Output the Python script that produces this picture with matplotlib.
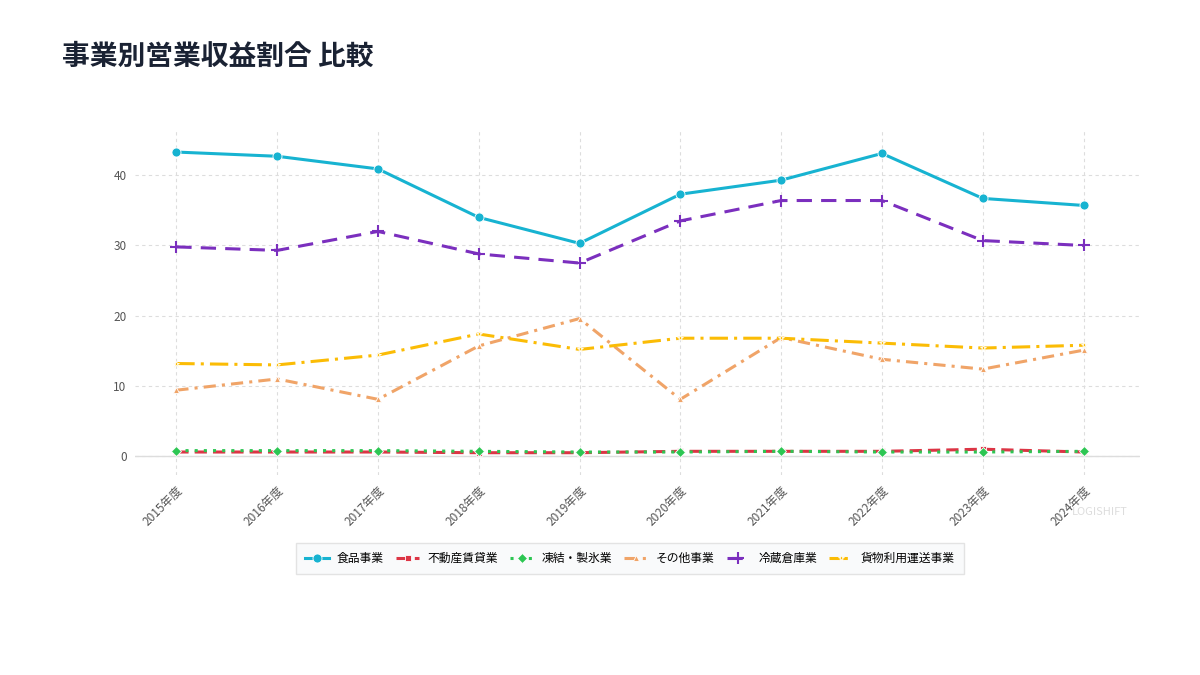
import numpy as np
import matplotlib
matplotlib.use('Agg')
import matplotlib.pyplot as plt

plt.rcParams['font.family'] = ['Noto Sans CJK JP', 'DejaVu Sans']

years = ['2015年度', '2016年度', '2017年度', '2018年度', '2019年度',
         '2020年度', '2021年度', '2022年度', '2023年度', '2024年度']

food = [43.3, 42.7, 40.9, 34.0, 30.3, 37.3, 39.3, 43.1, 36.7, 35.7]
real_estate = [0.6, 0.6, 0.6, 0.5, 0.5, 0.7, 0.7, 0.7, 1.0, 0.6]
freezing = [0.8, 0.8, 0.8, 0.7, 0.6, 0.6, 0.7, 0.6, 0.6, 0.7]
other = [9.4, 11.0, 8.1, 15.7, 19.6, 8.1, 16.9, 13.8, 12.4, 15.1]
cold_storage = [29.8, 29.3, 32.0, 28.8, 27.5, 33.5, 36.4, 36.4, 30.7, 30.0]
freight = [13.2, 13.0, 14.4, 17.4, 15.2, 16.8, 16.8, 16.1, 15.4, 15.8]

labels = ['食品事業', '不動産賃貸業', '凍結・製氷業', 'その他事業', '冷蔵倉庫業', '貨物利用運送事業']
series = [food, real_estate, freezing, other, cold_storage, freight]
colors = ['#17b3d1', '#dc3545', '#2dc653', '#f0a468', '#7b2fbe', '#fbbc05']
markers = ['o', 's', 'D', '^', '+', '*']
styles = ['-', (0, (4, 2)), (0, (1, 2)), (0, (4, 2, 1, 2)), (0, (5, 3)), (0, (6, 2, 1, 2))]
msizes = [6.5, 5, 5.5, 4.5, 8, 5]

fig = plt.figure(figsize=(12, 6.75), dpi=100)
ax = fig.add_axes([0.1125, 0.296, 0.8375, 0.511])

x = np.arange(len(years))
for i in range(len(series)):
    is_plus = markers[i] == '+'
    ax.plot(x, series[i], linestyle=styles[i], linewidth=2.2, color=colors[i],
            marker=markers[i], markersize=msizes[i],
            markeredgecolor=colors[i] if is_plus else 'white',
            markeredgewidth=1.5 if is_plus else 0.6,
            markerfacecolor=colors[i], label=labels[i], zorder=3)

ax.set_xlim(-0.41, 9.56)
ax.set_ylim(-2.7, 46.4)
ax.set_yticks([0, 10, 20, 30, 40])
ax.set_xticks(x)
ax.set_xticklabels(years, rotation=45, ha='right', rotation_mode='anchor')
ax.tick_params(axis='both', length=0, labelsize=8.5, labelcolor='#555555', pad=6)
ax.grid(True, color='#dddddd', linestyle=(0, (3, 3)), linewidth=0.8)
ax.axhline(0, color='#dddddd', linewidth=1, zorder=1)
for s in ax.spines.values():
    s.set_visible(False)

fig.text(0.052, 0.915, '事業別営業収益割合 比較', fontsize=20, fontweight='bold',
         color='#1a2233', ha='left', va='center')
fig.text(0.94, 0.241, 'LOGISHIFT', fontsize=8, color='#dddddd', ha='right', va='center')

leg = fig.legend(loc='center', bbox_to_anchor=(0.525, 0.173), ncol=6, fontsize=8.5,
                 frameon=True, handlelength=2.0, columnspacing=1.0, handletextpad=0.7,
                 borderpad=0.45)
leg.get_frame().set_facecolor('#f8f9fa')
leg.get_frame().set_edgecolor('#dddddd')
leg.get_frame().set_boxstyle('square')

fig.savefig('out.png', dpi=100)
